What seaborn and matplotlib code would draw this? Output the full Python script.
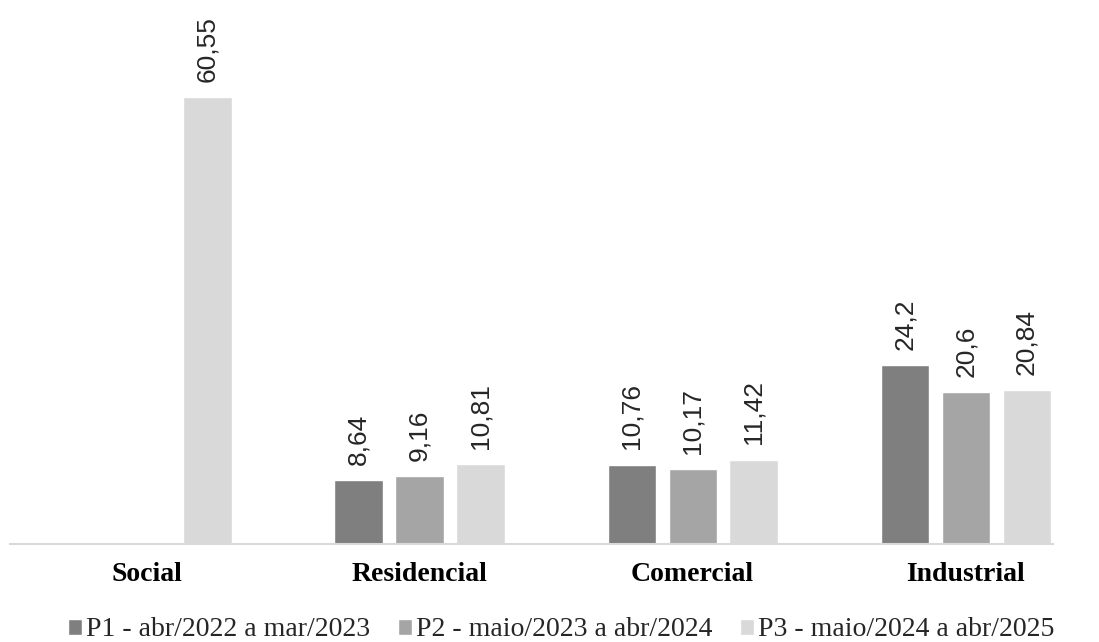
import pandas as pd
import matplotlib
matplotlib.use("Agg")
import matplotlib.pyplot as plt
import seaborn as sns

# === Dati ===
categorias = ["Social", "Residencial", "Comercial", "Industrial"]
periodos = ["P1 - abr/2022 a mar/2023",
            "P2 - maio/2023 a abr/2024",
            "P3 - maio/2024 a abr/2025"]
p1 = [None, 8.64, 10.76, 24.2]
p2 = [None, 9.16, 10.17, 20.6]
p3 = [60.55, 10.81, 11.42, 20.84]
cores = ["#7f7f7f", "#a5a5a5", "#d9d9d9"]

rows = []
for serie, per in zip([p1, p2, p3], periodos):
    for cat, v in zip(categorias, serie):
        if v is not None:
            rows.append({"Categoria": cat, "Periodo": per, "Valor": v})
df = pd.DataFrame(rows)

sns.set_style("white")
fig = plt.figure(figsize=(10.99, 6.42), dpi=100)
ax = fig.add_axes([10 / 1099, 98 / 642, 1043 / 1099, 544 / 642])

sns.barplot(data=df, x="Categoria", y="Valor", hue="Periodo",
            order=categorias, hue_order=periodos, palette=cores,
            width=0.67, gap=0.21, ax=ax, legend=True)

# etichette valori
lab_font = ["Liberation Sans Narrow", "Liberation Sans", "DejaVu Sans"]
for c in ax.containers:
    ax.bar_label(c, fmt=lambda v: f"{v:g}".replace(".", ","), rotation=90,
                 padding=11, fontsize=19, family=lab_font, color="#262626")

ax.set_xlim(-0.5, 3.32)
ax.set_ylim(0, 73.7)
ax.set_xlabel("")
ax.set_ylabel("")
ax.set_yticks([])
for s in ["top", "right", "left"]:
    ax.spines[s].set_visible(False)
ax.spines["bottom"].set_color("#d9d9d9")
ax.spines["bottom"].set_linewidth(1.5)
ax.tick_params(axis="x", length=0, pad=13)
for t in ax.get_xticklabels():
    t.set_fontfamily("Liberation Serif")
    t.set_fontweight("bold")
    t.set_fontsize(20)
    t.set_color("#000000")

ax.get_legend().remove()
fig.legend(*ax.get_legend_handles_labels(), loc="center",
           bbox_to_anchor=(561 / 1099, 1 - 630 / 642), ncol=3, frameon=False,
           prop={"family": "Liberation Serif", "size": 20},
           handlelength=0.5, handleheight=0.5, handletextpad=0.15,
           columnspacing=1.0, borderpad=0)

fig.savefig("out.png", dpi=100)
